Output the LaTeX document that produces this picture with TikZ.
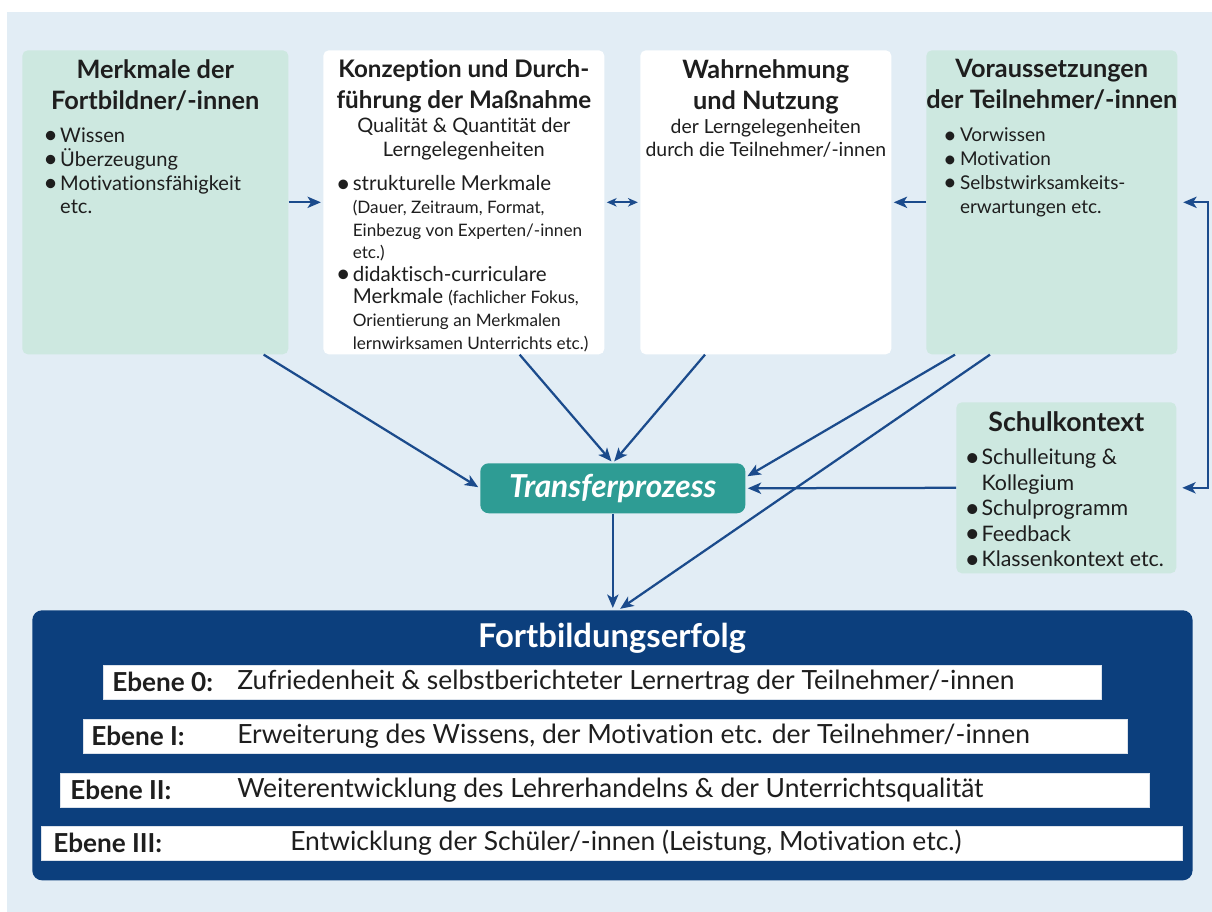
\documentclass[tikz,border=0pt]{standalone}
\usepackage{fontspec}
\setmainfont{Lato}[Ligatures=NoCommon]
\usetikzlibrary{arrows.meta,calc,positioning}
\definecolor{bgblue}{HTML}{E2EDF5}
\definecolor{greenlite}{HTML}{CDE8E0}
\definecolor{tealbox}{HTML}{2E9C94}
\definecolor{navy}{HTML}{0C3F7D}
\definecolor{arrowblue}{HTML}{1B4B8C}
\definecolor{ink}{HTML}{1E1E1E}

% fonts of the boxes
\newcommand\boxhead{\fontsize{18}{22}\selectfont\bfseries}
\newcommand\boxtext{\fontsize{14.3}{17}\selectfont}
\newcommand\boxnote{\fontsize{12.2}{16.1}\selectfont}
% bullet items
\newlength\bltw \setlength\bltw{12pt}
\newcommand\blt{\par\hangindent=\bltw\hangafter=1\noindent\makebox[\bltw][l]{\raisebox{-1pt}{\scalebox{1.25}{\textbullet}}}}
\newcommand\boxbody[3]{\parbox[t][#2][t]{#1}{#3}}

\tikzset{
  card/.style={anchor=north west,inner sep=0pt,rounded corners=4pt,text=ink},
  greencard/.style={card,fill=greenlite},
  whitecard/.style={card,fill=white},
  arr/.style={->,draw=arrowblue,line width=1.6pt,shorten >=1.5pt},
  bar/.style={anchor=north west,fill=white,draw=white!85!navy,line width=0.6pt,minimum height=0.85cm,inner sep=0pt},
  lvl/.style={anchor=west,inner sep=0pt,text=ink,font=\fontsize{18.6}{20}\selectfont\bfseries},
  lvltext/.style={anchor=west,inner sep=0pt,text=ink,font=\fontsize{18.8}{20}\selectfont},
}

\begin{document}
\begin{tikzpicture}[x=0.025cm,y=-0.025cm,>={Stealth[length=9.5pt,width=8pt,inset=2.5pt]}]
  \useasboundingbox (0,0) rectangle (1212,912);
  \fill[bgblue] (7,12) rectangle (1212,912);

  % upper row
  \node[greencard] (A) at (22,50) {\boxbody{6.65cm}{7.6cm}{%
    \vspace*{6.5pt}%
    {\centering\boxhead Merkmale der\\Fortbildner/-innen\par}%
    \vspace{6.5pt}%
    \raggedright\leftskip=15pt\boxtext
    \blt Wissen
    \blt Überzeugung
    \blt Motivationsfähigkeit\newline etc.\par}};
  \node[whitecard] (B) at (323,50) {\boxbody{7.025cm}{7.6cm}{%
    \vspace*{6.5pt}%
    {\centering\fontsize{17.2}{22}\selectfont\bfseries Konzeption und Durch-\\führung der Maßnahme\par}%
    {\centering\fontsize{14.2}{17}\selectfont Qualität \& Quantität der\\Lerngelegenheiten\par}%
    \vspace{8.5pt}%
    \raggedright\leftskip=9pt\fontsize{14.6}{17}\selectfont
    \blt strukturelle Merkmale\newline
    {\boxnote(Dauer, Zeitraum, Format,\newline Einbezug von Experten/-innen\newline etc.)\par}
    \blt didaktisch-curriculare\newline
    Merkmale {\boxnote(fachlicher Fokus,\newline Orientierung an Merkmalen\newline lernwirksamen Unterrichts etc.)\par}}};
  \node[whitecard] (C) at (640,50) {\boxbody{6.275cm}{7.6cm}{%
    \vspace*{6.5pt}%
    {\centering\boxhead Wahrnehmung\\und Nutzung\par}%
    {\centering\fontsize{13.8}{17}\selectfont der Lerngelegenheiten\\durch die Teilnehmer/-innen\par}}};
  \node[greencard] (D) at (926,50) {\boxbody{6.275cm}{7.6cm}{%
    \vspace*{6.5pt}%
    {\centering\boxhead Voraussetzungen\\\hbox to\linewidth{\hss der Teilnehmer/-innen\hss}\par}%
    \vspace{6.5pt}%
    \raggedright\leftskip=12pt\fontsize{13.5}{17}\selectfont
    \blt Vorwissen
    \blt Motivation
    \blt Selbstwirksamkeits-\newline erwartungen etc.\par}};
  \node[greencard] (S) at (956,402) {\boxbody{5.5cm}{4.275cm}{%
    \vspace*{7pt}%
    {\centering\fontsize{19}{22}\selectfont\bfseries Schulkontext\par}%
    \vspace{5pt}%
    \raggedright\leftskip=6pt\fontsize{15.2}{18.2}\selectfont
    \blt Schulleitung \&\newline Kollegium
    \blt Schulprogramm
    \blt Feedback
    \blt Klassenkontext etc.\par}};

  % process and outcome
  \node[anchor=north west,fill=tealbox,rounded corners=6pt,minimum width=6.625cm,minimum height=1.25cm,
        text=white,font=\fontsize{22.5}{24}\selectfont\bfseries\itshape] (T) at (480,463) {Transferprozess};
  \node[anchor=north west,fill=navy,rounded corners=7pt,minimum width=29cm,minimum height=6.75cm] (E) at (32,610) {};
  \node[text=white,font=\fontsize{23.3}{26}\selectfont\bfseries] (Etitle) at (612,638) {Fortbildungserfolg};

  \node[bar,minimum width=24.95cm] (e0) at (103,665) {};
  \node[bar,minimum width=26.1cm] (e1) at (83,719) {};
  \node[bar,minimum width=27.225cm] (e2) at (60,773) {};
  \node[bar,minimum width=28.525cm] (e3) at (41,826) {};
  \node[lvl] (l0) at (112,682) {Ebene 0:};
  \node[lvltext] (t0) at (237,682) {Zufriedenheit \& selbstberichteter Lernertrag der Teilnehmer/-innen};
  \node[lvl] (l1) at (91,736) {Ebene I:};
  \node[lvltext] (t1) at (237,736) {Erweiterung des Wissens, der Motivation etc. der Teilnehmer/-innen};
  \node[lvl] (l2) at (70,790) {Ebene II:};
  \node[lvltext] (t2) at (237,790) {Weiterentwicklung des Lehrerhandelns \& der Unterrichtsqualität};
  \node[lvl] (l3) at (53,843) {Ebene III:};
  \node[lvltext] (t3) at (290,843) {Entwicklung der Schüler/-innen (Leistung, Motivation etc.)};

  % connectors
  \draw[arr] (A) -- (B);
  \draw[arr,<->,shorten <=1.5pt,>={Stealth[length=7pt,width=6pt,inset=2pt]}] (B) -- (C);
  \draw[arr] (D) -- (C);
  \coordinate (rail) at (1208,0);
  \draw[arr,<->,shorten <=4pt,shorten >=4pt] (D.east) -- (D.east -| rail) |- (S.east);
  \draw[arr] ($(A.south east)+(-25,0)$) -- (T.west);
  \draw[arr] ($(B.south east)+(-85,0)$) -- (T.north);
  \draw[arr] ($(C.south west)+(65,0)$) -- (T.north);
  \draw[arr] ($(D.south west)+(29,0)$) -- ($(T.east)+(0,-11)$);
  \draw[arr] ($(D.south west)+(64,0)$) -- ($(E.north)+(6,0)$);
  \draw[arr] (S.west) -- (T.east);
  \draw[arr] (T.south) -- (T.south |- E.north);
\end{tikzpicture}
\end{document}
